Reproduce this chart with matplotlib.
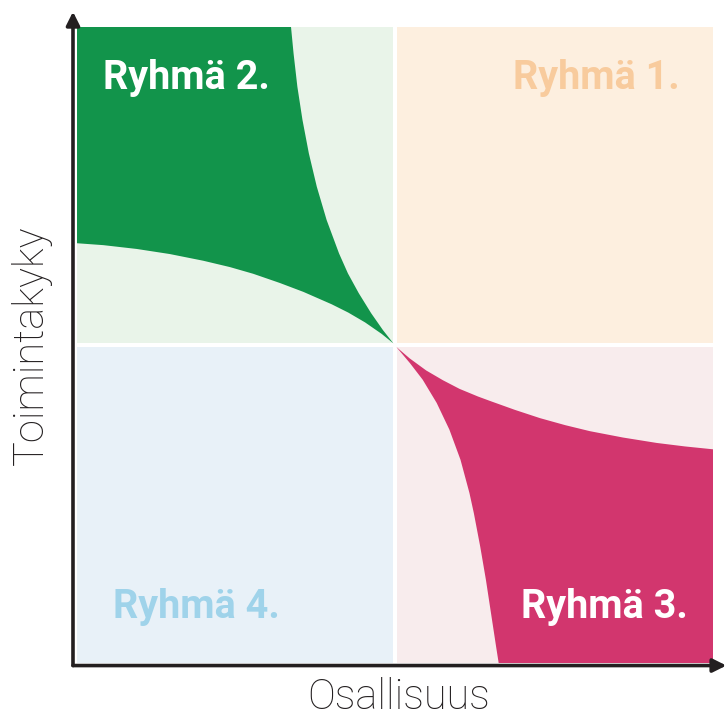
import numpy as np
import matplotlib
matplotlib.use('Agg')
import matplotlib.pyplot as plt
from matplotlib.patches import Rectangle, Polygon

# quadrant layout (data units: plot spans 0..2 on both axes, split at 1)
quad_names = ['Ryhmä 1.', 'Ryhmä 2.', 'Ryhmä 3.', 'Ryhmä 4.']
quad_bg = ['#fdefdf', '#e9f4e9', '#f8eced', '#e8f1f8']
quad_text = ['#f8cb9d', '#ffffff', '#ffffff', '#9fd3ea']

# green area (top-left), boundary
green_top_x = [0.673, 0.681, 0.693, 0.709, 0.729, 0.754, 0.785, 0.824,
               0.852, 0.886, 0.925, 0.962, 0.995]
green_top_y = [2.000, 1.917, 1.812, 1.708, 1.603, 1.498, 1.393, 1.288,
               1.225, 1.163, 1.100, 1.047, 1.005]
green_low_x = [0.000, 0.083, 0.188, 0.292, 0.397, 0.481, 0.554, 0.638,
               0.712, 0.801, 0.853, 0.906, 0.958, 0.995]
green_low_y = [1.320, 1.314, 1.302, 1.286, 1.265, 1.245, 1.224, 1.195,
               1.167, 1.128, 1.102, 1.071, 1.035, 1.005]

# pink area (bottom-right)
pink_up_x = [1.004, 1.046, 1.098, 1.151, 1.203, 1.261, 1.299, 1.377,
             1.456, 1.535, 1.613, 1.717, 1.823, 1.912, 2.000]
pink_up_y = [0.994, 0.958, 0.920, 0.889, 0.862, 0.838, 0.824, 0.796,
             0.770, 0.748, 0.729, 0.709, 0.692, 0.681, 0.672]
pink_low_x = [1.004, 1.047, 1.087, 1.131, 1.171, 1.206, 1.234, 1.248,
              1.268, 1.286, 1.302, 1.318, 1.326]
pink_low_y = [0.994, 0.943, 0.891, 0.818, 0.734, 0.639, 0.535, 0.471,
              0.366, 0.261, 0.156, 0.051, 0.000]

fig = plt.figure(figsize=(7.28, 7.2), dpi=100)
ax = fig.add_axes([77/728, 57/720, 636/728, 636/720])
ax.set_xlim(0, 2)
ax.set_ylim(0, 2)
ax.axis('off')

g = 0.005
# (x0, y0) of each quadrant: 1 top-right, 2 top-left, 3 bottom-right, 4 bottom-left
corners = [(1+g, 1+g), (0, 1+g), (1+g, 0), (0, 0)]
for (x0, y0), c in zip(corners, quad_bg):
    ax.add_patch(Rectangle((x0, y0), 1-g, 1-g, color=c, lw=0))

# green shape: top-left corner -> along top -> down the curve -> back along lower curve
gx = [0] + green_top_x + green_low_x[::-1][1:]
gy = [2] + green_top_y + green_low_y[::-1][1:]
ax.add_patch(Polygon(np.column_stack([gx, gy]), closed=True, color='#12944b', lw=0))

px = pink_up_x + [2] + pink_low_x[::-1][:-1]
py = pink_up_y + [0] + pink_low_y[::-1][:-1]
ax.add_patch(Polygon(np.column_stack([px, py]), closed=True, color='#d2366e', lw=0))

lab = dict(fontsize=28.5, fontweight='bold', family='Roboto', va='baseline')
ax.text(1.896, 1.804, quad_names[0], color=quad_text[0], ha='right', **lab)
ax.text(0.082, 1.804, quad_names[1], color=quad_text[1], ha='left', **lab)
ax.text(1.921, 0.142, quad_names[2], color=quad_text[2], ha='right', **lab)
ax.text(0.113, 0.140, quad_names[3], color=quad_text[3], ha='left', **lab)

# axes with arrows
arr = dict(arrowstyle='-|>', lw=2.6, color='#231f20', mutation_scale=20,
           shrinkA=0, shrinkB=0)
ax.annotate('', xy=(-0.0063, 1.024), xytext=(-0.0063, -0.004),
            xycoords='axes fraction', arrowprops=arr, annotation_clip=False)
ax.annotate('', xy=(1.021, -0.004), xytext=(-0.0063, -0.004),
            xycoords='axes fraction', arrowprops=arr, annotation_clip=False)

fig.text(399/728, 11/720, 'Osallisuus', fontsize=30, family='Roboto',
         fontweight='light', ha='center', va='baseline', color='#231f20')
fig.text(31/728, 375/720, 'Toimintakyky', fontsize=30, family='Roboto',
         fontweight='light', ha='center', va='center', rotation=90, color='#231f20')

fig.savefig('out.png', dpi=100)
